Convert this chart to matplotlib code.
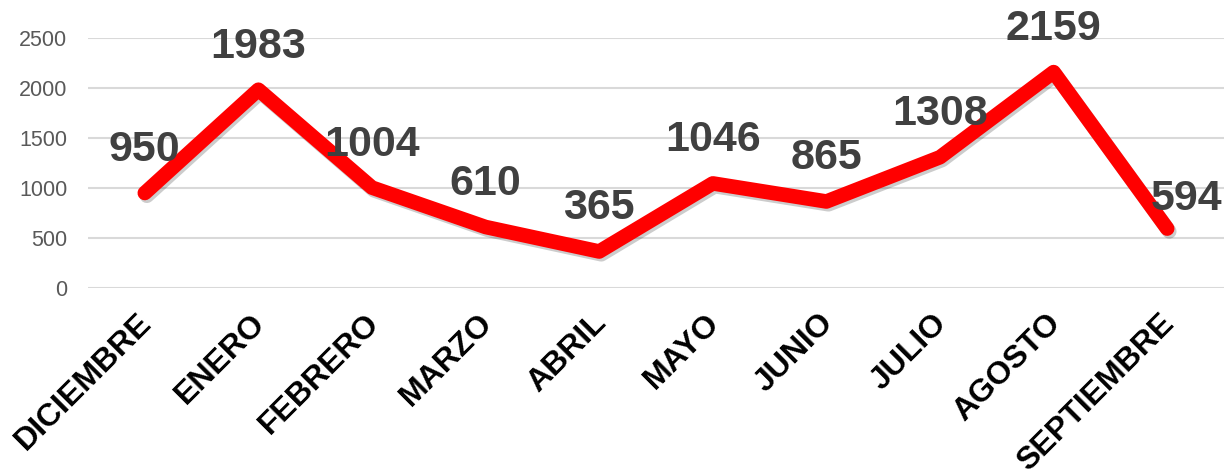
import matplotlib
matplotlib.use("Agg")
import matplotlib.pyplot as plt
import matplotlib.patheffects as pe
import matplotlib.transforms as mtransforms

months = ["DICIEMBRE", "ENERO", "FEBRERO", "MARZO", "ABRIL", "MAYO",
          "JUNIO", "JULIO", "AGOSTO", "SEPTIEMBRE"]
values = [950, 1983, 1004, 610, 365, 1046, 865, 1308, 2159, 594]
yticks = [0, 500, 1000, 1500, 2000, 2500]

plt.rcParams['font.family'] = ['Liberation Sans', 'DejaVu Sans']

fig = plt.figure(figsize=(12.26, 4.71), dpi=100)
ax = fig.add_axes([88/1226, (471-288)/471, 1136/1226, 250/471])

x = list(range(len(months)))
ax.plot(x, values, color='#ff0000', linewidth=10.5, solid_joinstyle='round',
        solid_capstyle='round', zorder=3,
        path_effects=[pe.SimpleLineShadow(offset=(1.5, -2), shadow_color='#000000', alpha=0.2),
                      pe.Normal()])

for i, (xi, v) in enumerate(zip(x, values)):
    dx, dy = (0, 31)
    if i == len(values) - 1:
        dx, dy = (14, 21)
    ax.annotate(str(v), (xi, v), xytext=(dx, dy), textcoords='offset points',
                ha='center', va='center', fontsize=31, fontweight='bold',
                color='#404040', zorder=4, annotation_clip=False)

ax.set_xlim(-0.5, len(months) - 0.5)
ax.set_ylim(0, 2500)
ax.set_yticks(yticks)
ax.set_yticklabels([str(t) for t in yticks], fontsize=15.5, color='#595959')
ax.set_xticks(x)
ax.set_xticklabels([])

label_tr = ax.get_xaxis_transform() + mtransforms.ScaledTranslation(-8/100, -20/100, fig.dpi_scale_trans)
for xi, m in zip(x, months):
    ax.text(xi, 0, m, transform=label_tr, rotation=45, ha='right', va='top',
            rotation_mode='anchor', fontsize=23, fontweight='bold', color='black',
            clip_on=False)

ax.tick_params(axis='both', length=0)
ax.tick_params(axis='y', pad=15)
ax.grid(axis='y', color='#d9d9d9', linewidth=1.5)
ax.set_axisbelow(True)
for s in ax.spines.values():
    s.set_visible(False)

fig.savefig("out.png", dpi=100)
